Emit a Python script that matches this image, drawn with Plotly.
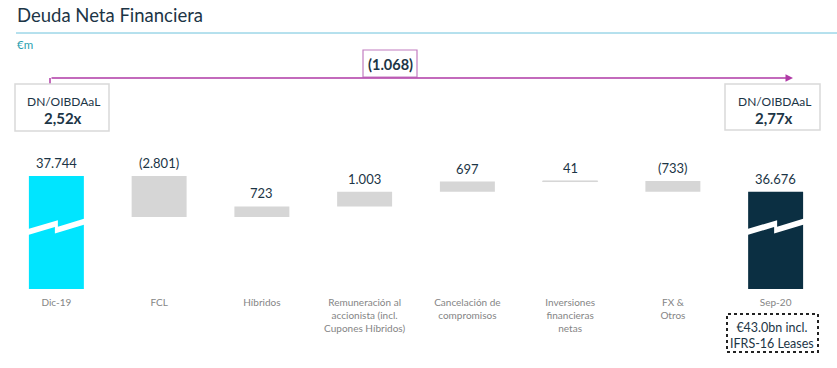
import plotly.graph_objects as go

# ---------------- data ----------------
categories = ["Dic-19", "FCL", "Híbridos",
              "Remuneración al<br>accionista (incl.<br>Cupones Híbridos)",
              "Cancelación de<br>compromisos", "Inversiones<br>financieras<br>netas",
              "FX &<br>Otros", "Sep-20"]
values = [37744, -2801, 723, 1003, 697, 41, -733, 36676]
measures = ["total", "relative", "relative", "relative", "relative", "relative", "relative", "total"]
ratio_start = "2,52x"
ratio_end = "2,77x"
change_label = "(1.068)"
note_label = "€43.0bn incl.<br>IFRS-16 Leases"

# ---------------- styles ----------------
FONT = "Lato"
DARK = "#1c3546"
GREY_TXT = "#858585"
CYAN = "#00E5FF"
NAVY = "#0B2F42"
GREY_BAR = "#d6d6d6"
MAGENTA = "#b03aa6"

W, H = 837, 368
ML, MR, MT, MB = 5, 10, 140, 79
PW, PH = W - ML - MR, H - MT - MB
Y_BOT, Y_TOP = 30026, 40203


def pxx(x):
    return (x - ML) / PW


def pxy(y):
    return (H - MB - y) / PH


def yval(py):
    return Y_BOT + (H - MB - py) / PH * (Y_TOP - Y_BOT)


# waterfall bases
bases, tops, colors, lw = [], [], [], []
running = 0
for i, (v, m) in enumerate(zip(values, measures)):
    if m == "total":
        bases.append(0)
        running = v
        tops.append(v)
        colors.append(CYAN if i == 0 else NAVY)
        lw.append(0)
    else:
        bases.append(running)
        tops.append(max(running, running + v))
        running += v
        colors.append(GREY_BAR)
        lw.append(1 if abs(v) < 200 else 0)
heights = [v for v in values]


def fmt(v):
    s = f"{abs(v):,}".replace(",", ".")
    return f"({s})" if v < 0 else s


xs = list(range(len(categories)))
fig = go.Figure()
fig.add_trace(go.Bar(
    x=xs, y=heights, base=bases, width=0.535,
    marker=dict(color=colors, line=dict(color=GREY_BAR, width=lw)),
    hoverinfo="skip",
))

annotations = []
for x, t, v in zip(xs, tops, values):
    annotations.append(dict(x=x, y=t, xref="x", yref="y", text=fmt(v), showarrow=False,
                            yanchor="bottom", yshift=3,
                            font=dict(family=FONT, size=13, color=DARK)))

shapes = []
# axis break zigzags
UX = PW / len(categories)


def break_shape(c):
    s, t, d = 0.3, 6, 6.5
    yt1 = lambda dx: 229 - s * (dx + 28)
    yt2 = lambda dx: yt1(dx) + d
    pts = [(-30, yt1(-30)), (1.5, yt1(1.5)), (1.5, yt2(1.5)), (30, yt2(30)),
           (30, yt2(30) + t), (-1.5, yt2(-1.5) + t), (-1.5, yt1(-1.5) + t), (-30, yt1(-30) + t)]
    path = "M " + " L ".join(f"{c + dx / UX},{yval(py)}" for dx, py in pts) + " Z"
    return dict(type="path", path=path, xref="x", yref="y", fillcolor="white",
                line=dict(width=0), layer="above")


shapes.append(break_shape(0))
shapes.append(break_shape(len(categories) - 1))

# header line
shapes.append(dict(type="line", xref="paper", yref="paper", x0=pxx(16), x1=pxx(837),
                   y0=pxy(33), y1=pxy(33), line=dict(color="#6cc2dc", width=1)))
# connector vertical
shapes.append(dict(type="line", xref="paper", yref="paper", x0=pxx(50), x1=pxx(50),
                   y0=pxy(78), y1=pxy(84), line=dict(color=MAGENTA, width=1.5)))
# change box
shapes.append(dict(type="rect", xref="paper", yref="paper", x0=pxx(363), x1=pxx(417),
                   y0=pxy(77), y1=pxy(50), line=dict(color="#c27cc0", width=1.2),
                   fillcolor="white"))
# ratio boxes
shapes.append(dict(type="rect", xref="paper", yref="paper", x0=pxx(15), x1=pxx(109),
                   y0=pxy(131), y1=pxy(84), line=dict(color="#d9d9d9", width=1.5)))
shapes.append(dict(type="rect", xref="paper", yref="paper", x0=pxx(725), x1=pxx(820),
                   y0=pxy(130), y1=pxy(84), line=dict(color="#d9d9d9", width=1.5)))
# dotted note box
shapes.append(dict(type="rect", xref="paper", yref="paper", x0=pxx(727), x1=pxx(818),
                   y0=pxy(352), y1=pxy(314), line=dict(color="#222222", width=2, dash="dot")))

# arrow
annotations.append(dict(xref="paper", yref="paper", x=pxx(793), y=pxy(78), ax=50 - 793, ay=0,
                        axref="pixel", ayref="pixel", text="", showarrow=True,
                        arrowhead=2, arrowsize=1, arrowwidth=1.5, arrowcolor=MAGENTA,
                        standoff=0, startstandoff=0))
# title etc.
annotations += [
    dict(xref="paper", yref="paper", x=pxx(15), y=pxy(15), text="Deuda Neta Financiera",
         showarrow=False, xanchor="left", yanchor="middle",
         font=dict(family=FONT, size=18.5, color=DARK)),
    dict(xref="paper", yref="paper", x=pxx(15), y=pxy(44), text="€m",
         showarrow=False, xanchor="left", yanchor="middle",
         font=dict(family=FONT, size=11.5, color="#2a9fb0")),
    dict(xref="paper", yref="paper", x=pxx(390), y=pxy(64), text=f"<b>{change_label}</b>",
         showarrow=False, xanchor="center", yanchor="middle",
         font=dict(family=FONT, size=14.5, color=DARK)),
    dict(xref="paper", yref="paper", x=pxx(63), y=pxy(101), text="DN/OIBDAaL",
         showarrow=False, xanchor="center", yanchor="middle",
         font=dict(family=FONT, size=12, color=DARK)),
    dict(xref="paper", yref="paper", x=pxx(63), y=pxy(118), text=f"<b>{ratio_start}</b>",
         showarrow=False, xanchor="center", yanchor="middle",
         font=dict(family=FONT, size=15, color=DARK)),
    dict(xref="paper", yref="paper", x=pxx(774), y=pxy(101), text="DN/OIBDAaL",
         showarrow=False, xanchor="center", yanchor="middle",
         font=dict(family=FONT, size=12, color=DARK)),
    dict(xref="paper", yref="paper", x=pxx(774), y=pxy(118), text=f"<b>{ratio_end}</b>",
         showarrow=False, xanchor="center", yanchor="middle",
         font=dict(family=FONT, size=15, color=DARK)),
    dict(xref="paper", yref="paper", x=pxx(772), y=pxy(335), text=note_label,
         showarrow=False, xanchor="center", yanchor="middle",
         font=dict(family=FONT, size=12.5, color=DARK)),
]

fig.update_layout(
    width=W, height=H, margin=dict(l=ML, r=MR, t=MT, b=MB, pad=0),
    paper_bgcolor="white", plot_bgcolor="white", showlegend=False,
    separators=",.",
    xaxis=dict(range=[-0.5, len(categories) - 0.5], tickvals=xs, ticktext=categories,
               showgrid=False, zeroline=False, showline=False, ticks="",
               ticklabelstandoff=6,
               tickfont=dict(family=FONT, size=10, color=GREY_TXT), fixedrange=True),
    yaxis=dict(range=[Y_BOT, Y_TOP], visible=False, fixedrange=True),
    shapes=shapes, annotations=annotations,
)

fig.write_html("out.html", config={"displayModeBar": False},
               post_script="document.body.style.margin='0';document.body.style.overflow='hidden';")
